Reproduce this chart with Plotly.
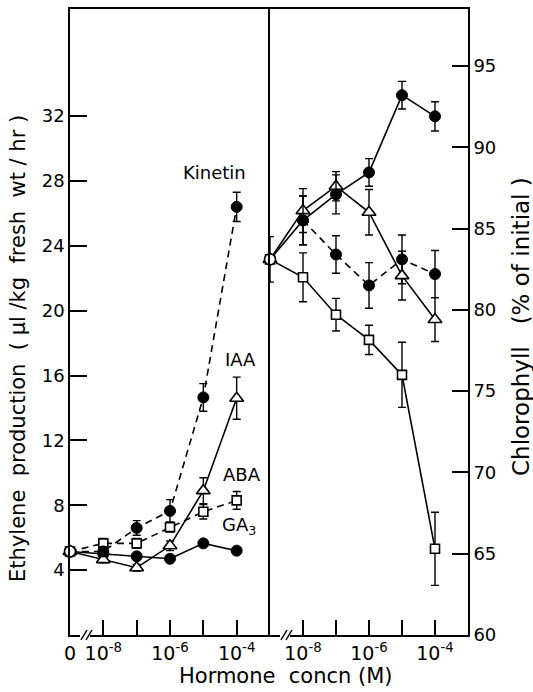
import plotly.graph_objects as go
from plotly.subplots import make_subplots

# ---- data ----
CONTROL_X = -9          # position of the "0" (control) on the broken log axis
conc_log = [-8, -7, -6, -5, -4]   # log10 hormone concentration (M)

# Left panel: ethylene production (µl/kg fresh wt/hr)
eth_control = 5.15
kinetin = [5.15, 6.6, 7.65, 14.65, 26.4]
kinetin_err = [0.3, 0.45, 0.7, 0.85, 0.9]
iaa = [4.65, 4.15, 5.5, 8.9, 14.6]
iaa_err = [0.2, 0.2, 0.3, 0.8, 1.3]
aba = [5.65, 5.65, 6.65, 7.6, 8.3]
aba_err = [0.3, 0.3, 0.3, 0.45, 0.55]
ga3 = [5.0, 4.85, 4.7, 5.65, 5.2]

# Right panel: chlorophyll (% of initial)
chl_control = 83.1
chl_control_err = 1.4
chl_a = [85.5, 87.1, 88.45, 93.2, 91.9]
chl_a_err = [1.5, 1.2, 0.85, 0.85, 0.9]
chl_b = [86.1, 87.6, 86.0, 82.1, 79.4]
chl_b_err = [1.35, 0.9, 1.4, 1.5, 1.35]
chl_c = [85.5, 83.4, 81.5, 83.1, 82.2]
chl_c_err = [1.5, 1.15, 1.4, 1.5, 1.45]
chl_d = [82.0, 79.7, 78.15, 76.0, 65.3]
chl_d_err = [1.5, 1.0, 0.9, 2.0, 2.25]

left_labels = ["Kinetin", "IAA", "ABA", "GA<sub>3</sub>"]
label_pos = [(-4.68, 28.5), (-3.9, 17.0), (-3.84, 9.9), (-3.92, 6.7)]

xt_vals_left = [-9, -8, -6, -4]
xt_text_left = ["0", "10<sup>-8</sup>", "10<sup>-6</sup>", "10<sup>-4</sup>"]
xt_vals_right = [-8, -6, -4]
xt_text_right = ["10<sup>-8</sup>", "10<sup>-6</sup>", "10<sup>-4</sup>"]
y_left_ticks = [4, 8, 12, 16, 20, 24, 28, 32]
y_right_ticks = [60, 65, 70, 75, 80, 85, 90, 95]

FONT = "DejaVu Sans"
BLACK = "black"
LW = 1.6
DASH = "7px,5px"

W, H = 533, 692
ML, MR, MT, MB = 70, 65, 7, 57
PW, PH = W - ML - MR, H - MT - MB

def px2x(px):
    return (px - ML) / PW

def py2y(py):
    return (H - MB - py) / PH

fig = make_subplots(rows=1, cols=2, horizontal_spacing=0,
                    column_widths=[200, 198])

def err(arr):
    return dict(type="data", array=arr, visible=True, color=BLACK,
                thickness=1.4, width=4)

def filled(size=11):
    return dict(symbol="circle", size=size, color=BLACK,
                line=dict(color=BLACK, width=1))

def open_marker(sym, size):
    return dict(symbol=sym, size=size, color="white",
                line=dict(color=BLACK, width=1.6))

def add(x, y, e, marker, dash, col):
    fig.add_trace(go.Scatter(
        x=x, y=y, mode="lines+markers",
        line=dict(color=BLACK, width=LW, dash=dash),
        marker=marker,
        error_y=err(e) if e is not None else None,
        showlegend=False, cliponaxis=False), row=1, col=col)

cx = [CONTROL_X] + conc_log

# left panel
add(cx, [eth_control] + ga3, None, filled(), "solid", 1)
add(cx, [eth_control] + aba, [0] + aba_err, open_marker("square", 9), DASH, 1)
add(cx, [eth_control] + iaa, [0] + iaa_err, open_marker("triangle-up", 12), "solid", 1)
add(cx, [eth_control] + kinetin, [0] + kinetin_err, filled(), DASH, 1)
fig.add_trace(go.Scatter(x=[CONTROL_X], y=[eth_control], mode="markers",
                         marker=open_marker("circle", 11), showlegend=False,
                         cliponaxis=False), row=1, col=1)

# right panel
add(cx, [chl_control] + chl_d, [0] + chl_d_err, open_marker("square", 9), "solid", 2)
add(conc_log, chl_c, chl_c_err, filled(), DASH, 2)
add(cx, [chl_control] + chl_b, [0] + chl_b_err, open_marker("triangle-up", 12), "solid", 2)
add(cx, [chl_control] + chl_a, [0] + chl_a_err, filled(), "solid", 2)
fig.add_trace(go.Scatter(x=[CONTROL_X], y=[chl_control], mode="markers",
                         marker=open_marker("circle", 11),
                         error_y=err([chl_control_err]),
                         showlegend=False, cliponaxis=False), row=1, col=2)

tickfont = dict(family=FONT, size=18, color=BLACK)
xtickfont = dict(family=FONT, size=19, color=BLACK)

axis_common = dict(showgrid=False, zeroline=False, showline=True,
                   linecolor=BLACK, linewidth=1.6,
                   ticks="inside", tickcolor=BLACK, tickwidth=1.5)
minor_x = dict(tickvals=conc_log, ticks="inside", ticklen=15,
               tickcolor=BLACK, tickwidth=1.5, showgrid=False)

fig.update_xaxes(range=[-9, -3], tickvals=xt_vals_left, ticktext=xt_text_left,
                 ticklen=15, mirror=True, tickfont=xtickfont, minor=minor_x,
                 **axis_common, row=1, col=1)
fig.update_xaxes(range=[-9, -3], tickvals=xt_vals_right, ticktext=xt_text_right,
                 ticklen=15, mirror=True, tickfont=xtickfont, minor=minor_x,
                 **axis_common, row=1, col=2)
fig.update_yaxes(range=[0, 38.6], tickvals=y_left_ticks, tickfont=tickfont,
                 ticklen=17, mirror=False, **axis_common, row=1, col=1)
fig.update_yaxes(range=[60, 98.5], tickvals=y_right_ticks, tickfont=tickfont,
                 side="right", ticklen=16, mirror=True, **axis_common, row=1, col=2)

annotations = []
for t, (x, y) in zip(left_labels, label_pos):
    annotations.append(dict(x=x, y=y, xref="x", yref="y", text=t,
                            showarrow=False,
                            font=dict(family=FONT, size=18, color=BLACK)))
title_font = dict(family=FONT, size=21, color=BLACK)
annotations += [
    dict(x=px2x(286), y=py2y(676), xref="paper", yref="paper",
         text="Hormone  concn (M)", showarrow=False, font=title_font,
         xanchor="center", yanchor="middle"),
    dict(x=px2x(18), y=py2y(348), xref="paper", yref="paper",
         text="Ethylene  production  ( µl /kg  fresh  wt / hr )", textangle=-90,
         showarrow=False, font=title_font, xanchor="center", yanchor="middle"),
    dict(x=px2x(521), y=py2y(326), xref="paper", yref="paper",
         text="Chlorophyll   (% of initial )", textangle=-90,
         showarrow=False, font=dict(family=FONT, size=23, color=BLACK),
         xanchor="center", yanchor="middle"),
]

# axis break marks "//"
shapes = []
for px in (84, 284):
    shapes.append(dict(type="rect", xref="paper", yref="paper",
                       x0=px2x(px - 4), x1=px2x(px + 6),
                       y0=py2y(637), y1=py2y(633),
                       fillcolor="white", line=dict(width=0)))
    for dx in (0, 5):
        shapes.append(dict(type="line", xref="paper", yref="paper",
                           x0=px2x(px + dx - 3), x1=px2x(px + dx + 3),
                           y0=py2y(640), y1=py2y(630),
                           line=dict(color=BLACK, width=1.4)))

fig.update_layout(width=W, height=H,
                  margin=dict(l=ML, r=MR, t=MT, b=MB),
                  paper_bgcolor="white", plot_bgcolor="white",
                  annotations=annotations, shapes=shapes,
                  font=dict(family=FONT, color=BLACK))

fig.write_html("out.html")
